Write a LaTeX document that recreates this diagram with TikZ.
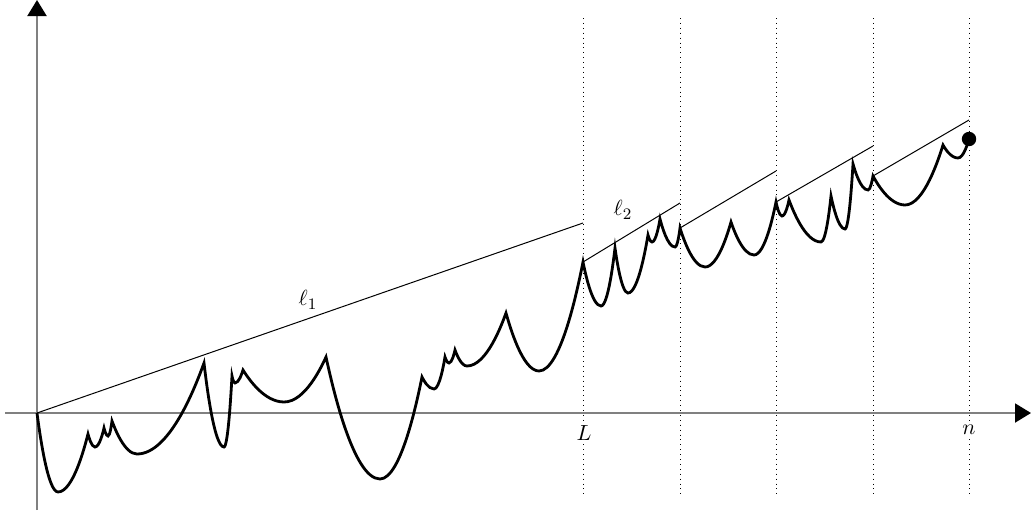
\documentclass[tikz,border=0pt]{standalone}
\usetikzlibrary{arrows.meta}
\begin{document}
\begin{tikzpicture}[x=0.5pt,y=-0.5pt,
  every node/.style={font=\fontsize{11}{13}\selectfont},
  axis/.style={draw=gray,line width=1pt,-{Triangle[color=black,width=9.5pt,length=8pt]}},
  guide/.style={dotted,line width=0.45pt},
  envline/.style={line width=0.5pt},
  walk/.style={line width=1.4pt,line join=miter},
  lab/.style={fill=white,inner sep=1pt}]
\useasboundingbox (0,0) rectangle (1032,514);
% axes
\coordinate (xs) at (5,413);
\coordinate (xe) at (1031,413);
\coordinate (ys) at (37,510);
\coordinate (ye) at (37,0);
\draw[axis] (xs) -- (xe);
\draw[axis] (ys) -- (ye);
% vertical guides
\foreach \x/\nm in {583/g1,680/g2,776/g3,873/g4,969/g5}{
  \coordinate (\nm t) at (\x,18);
  \coordinate (\nm b) at (\x,497);
  \draw[guide] (\nm t) -- (\nm b);
}
\node[lab] (L) at (584,433) {$L$};
\node[lab] (n) at (969,430) {$n$};
% envelope lines
\coordinate (O) at (37,413);
\coordinate (a1) at (583,223);
\coordinate (b2) at (583,262);
\coordinate (a2) at (680,203);
\coordinate (b3) at (680,228);
\coordinate (a3) at (776,171);
\coordinate (b4) at (776,202);
\coordinate (a4) at (873,146);
\coordinate (b5) at (873,176);
\coordinate (a5) at (969,120);
\draw[envline] (O) -- (a1);
\draw[envline] (b2) -- (a2);
\draw[envline] (b3) -- (a3);
\draw[envline] (b4) -- (a4);
\draw[envline] (b5) -- (a5);
\node (l1) at (308,300) {$\ell_1$};
\node (l2) at (623,210) {$\ell_2$};
% the walk
\coordinate (E) at (969,139);
\draw[walk] (O) parabola bend (58,492) (88,434)
  parabola bend (95,447) (104,428)
  parabola bend (108,436) (112,421)
  parabola bend (137,454) (204,363)
  parabola bend (224,447) (232,376)
  parabola bend (235,383) (243,370)
  parabola bend (284,402) (326,357)
  parabola bend (380,479) (422,377)
  parabola bend (434,389) (445,357)
  parabola bend (449,363) (455,350)
  parabola bend (467,366) (506,313)
  parabola bend (539,371) (b2)
  parabola bend (601,306) (615,248)
  parabola bend (628,293) (648,235)
  parabola bend (652,242) (660,219)
  parabola bend (675,247) (b3)
  parabola bend (705,267) (731,222)
  parabola bend (754,255) (b4)
  parabola bend (782,216) (789,200)
  parabola bend (821,242) (831,196)
  parabola bend (845,229) (853,164)
  parabola bend (868,190) (b5)
  parabola bend (905,205) (943,145)
  parabola bend (958,158) (E);
\fill (E) circle (3.6pt);
\end{tikzpicture}
\end{document}
